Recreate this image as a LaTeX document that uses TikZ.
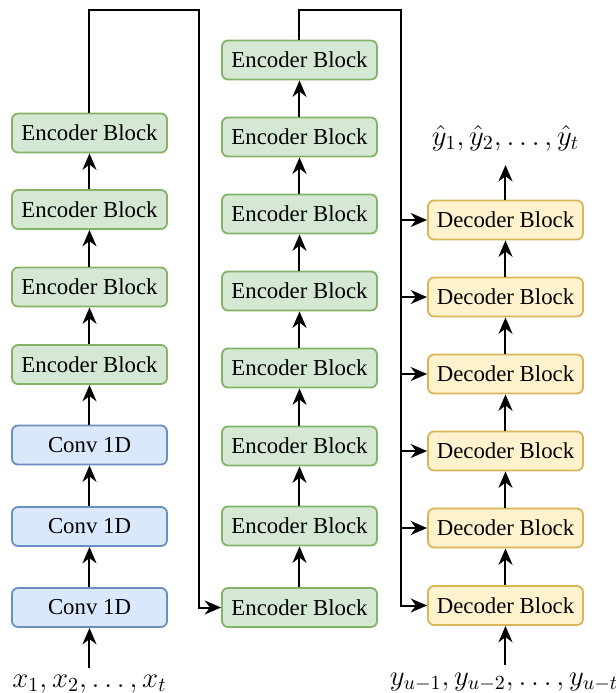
\documentclass[tikz,border=0pt]{standalone}
\usepackage{fontspec}
\setmainfont{Liberation Serif}
\usetikzlibrary{arrows.meta}

\definecolor{encfill}{HTML}{D5E8D4}
\definecolor{encline}{HTML}{82B366}
\definecolor{convfill}{HTML}{DAE8FC}
\definecolor{convline}{HTML}{6C8EBF}
\definecolor{decfill}{HTML}{FFF2CC}
\definecolor{decline}{HTML}{D6B656}

\tikzset{
  block/.style={rounded corners=3pt, minimum width=77.5pt, minimum height=19.5pt,
    inner sep=0pt, line width=0.9pt, font=\fontsize{11.4}{13}\selectfont},
  enc/.style={block, fill=encfill, draw=encline},
  conv/.style={block, fill=convfill, draw=convline},
  dec/.style={block, fill=decfill, draw=decline},
  seqlabel/.style={anchor=base, inner sep=0pt, font=\fontsize{14.3}{16}\selectfont},
  flow/.style={line width=1pt, -{Stealth[length=8.2pt,width=7pt,inset=2.6pt]}},
}

\begin{document}
\begin{tikzpicture}[x=0.5pt,y=-0.5pt]
\useasboundingbox (0,0) rectangle (616,693);

% left column: three convolutions feeding four encoder blocks
\node[conv] (c1) at (89.5,445)   {Conv 1D};
\node[conv] (c2) at (89.5,526.5) {Conv 1D};
\node[conv] (c3) at (89.5,607.5) {Conv 1D};
\node[enc] (le1) at (89.5,133)   {Encoder Block};
\node[enc] (le2) at (89.5,209.5) {Encoder Block};
\node[enc] (le3) at (89.5,287)   {Encoder Block};
\node[enc] (le4) at (89.5,364.5) {Encoder Block};

% middle column: eight encoder blocks
\node[enc] (me1) at (299.5,60)    {Encoder Block};
\node[enc] (me2) at (299.5,137)   {Encoder Block};
\node[enc] (me3) at (299.5,214)   {Encoder Block};
\node[enc] (me4) at (299.5,291)   {Encoder Block};
\node[enc] (me5) at (299.5,368)   {Encoder Block};
\node[enc] (me6) at (299.5,446)   {Encoder Block};
\node[enc] (me7) at (299.5,526)   {Encoder Block};
\node[enc] (me8) at (299.5,607.5) {Encoder Block};

% right column: six decoder blocks
\node[dec] (d1) at (505.5,220)   {Decoder Block};
\node[dec] (d2) at (505.5,297)   {Decoder Block};
\node[dec] (d3) at (505.5,374)   {Decoder Block};
\node[dec] (d4) at (505.5,451)   {Decoder Block};
\node[dec] (d5) at (505.5,528)   {Decoder Block};
\node[dec] (d6) at (505.5,605.5) {Decoder Block};

% sequence labels
\node[seqlabel] (xin)  at (89.5,687)  {$x_1, x_2, \ldots, x_t$};
\node[seqlabel] (yhat) at (505.5,145) {$\hat{y}_1, \hat{y}_2, \ldots, \hat{y}_t$};
\node[seqlabel] (yin)  at (504,685)   {$y_{u-1}, y_{u-2}, \ldots, y_{u-t}$};

\coordinate (xsrc) at (89.5,668);
\coordinate (ysrc) at (505.5,665);
\coordinate (yout) at (505.5,165);
\coordinate (lturn) at (199,10);
\coordinate (rturn) at (401.5,10);

% vertical flow in each column
\draw[flow] (xsrc) -- (c3.south);
\draw[flow] (c3) -- (c2);
\draw[flow] (c2) -- (c1);
\draw[flow] (c1) -- (le4);
\draw[flow] (le4) -- (le3);
\draw[flow] (le3) -- (le2);
\draw[flow] (le2) -- (le1);

\draw[flow] (me8) -- (me7);
\draw[flow] (me7) -- (me6);
\draw[flow] (me6) -- (me5);
\draw[flow] (me5) -- (me4);
\draw[flow] (me4) -- (me3);
\draw[flow] (me3) -- (me2);
\draw[flow] (me2) -- (me1);

\draw[flow] (ysrc) -- (d6.south);
\draw[flow] (d6) -- (d5);
\draw[flow] (d5) -- (d4);
\draw[flow] (d4) -- (d3);
\draw[flow] (d3) -- (d2);
\draw[flow] (d2) -- (d1);
\draw[flow] (d1.north) -- (yout);

% links between columns
\draw[flow] (le1.north) |- (lturn) |- (me8.west);
\draw[flow] (me1.north) |- (rturn) |- (d6.west);
\foreach \d in {d1,d2,d3,d4,d5}
  \draw[flow] (\d.west -| rturn) -- (\d.west);
\end{tikzpicture}
\end{document}
